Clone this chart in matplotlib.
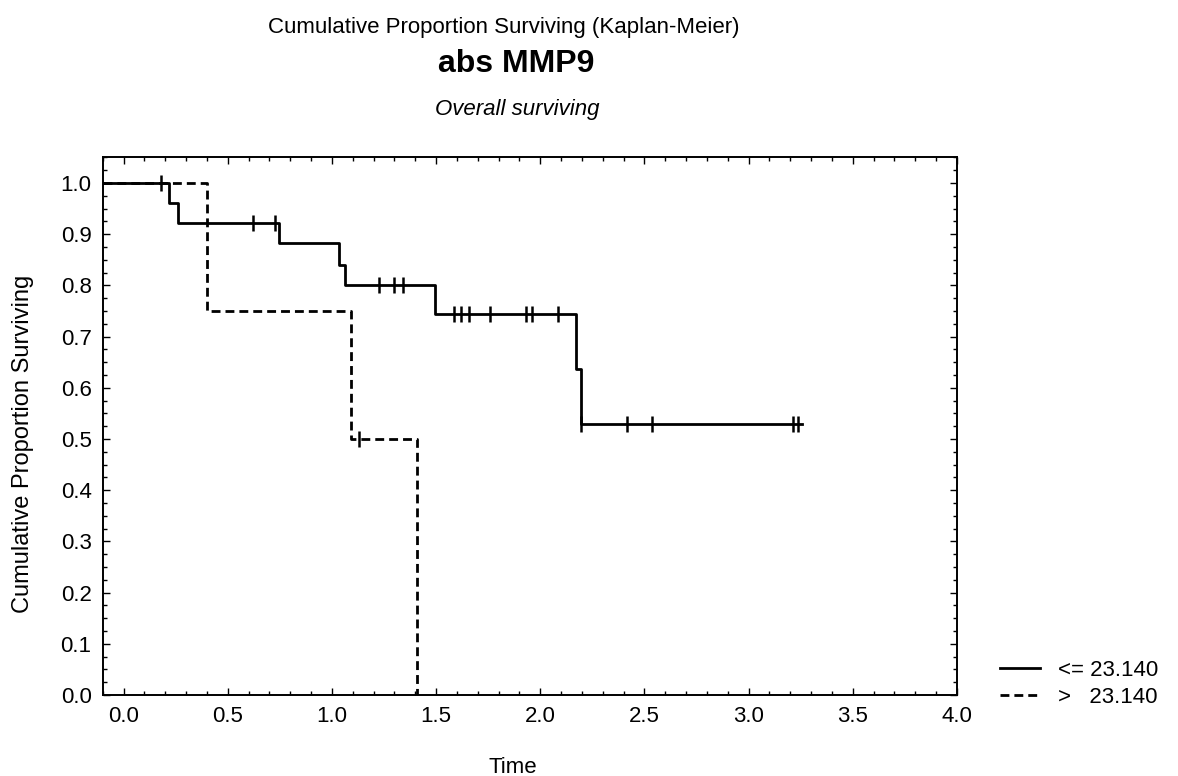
import numpy as np
import matplotlib
matplotlib.use("Agg")
import matplotlib.pyplot as plt
from matplotlib.ticker import MultipleLocator

plt.rcParams['font.family'] = ['Liberation Sans', 'DejaVu Sans']

# group <= 23.140 : step times and survival after each step
low_times = [0.0, 0.218, 0.263, 0.747, 1.032, 1.062, 1.497, 2.173, 2.197, 3.255]
low_surv = [1.0, 0.96, 0.922, 0.882, 0.839, 0.800, 0.744, 0.637, 0.530, 0.530]
low_cens_t = [0.18, 0.623, 0.727, 1.224, 1.30, 1.34, 1.588, 1.619, 1.66, 1.76,
              1.933, 1.962, 2.085, 2.197, 2.418, 2.538, 3.215, 3.235]

# group > 23.140
high_times = [0.0, 0.40, 1.094, 1.407]
high_surv = [1.0, 0.75, 0.50, 0.0]
high_cens_t = [1.128]

legend_labels = ["<= 23.140", ">   23.140"]

x_lim = (-0.1, 4.0)


def surv_at(t, times, surv):
    idx = np.searchsorted(times, t, side="right") - 1
    return np.array(surv)[idx]


fig = plt.figure(figsize=(11.78, 7.76), dpi=100)
ax = fig.add_axes([102.7 / 1178, 1 - 695 / 776, (957 - 102.7) / 1178, (695 - 157.3) / 776])

# curves are drawn from the left edge of the plot, as in the original software
l1, = ax.step([x_lim[0]] + low_times, [low_surv[0]] + low_surv, where="post",
              color="black", lw=2)
ax.plot(low_cens_t, surv_at(low_cens_t, low_times, low_surv), ls="none",
        marker="|", ms=12, mew=1.8, color="black")

l2, = ax.step([x_lim[0]] + high_times, [high_surv[0]] + high_surv, where="post",
              color="black", lw=2, dashes=(3.2, 1.8))
ax.plot(high_cens_t, surv_at(high_cens_t, high_times, high_surv), ls="none",
        marker="|", ms=12, mew=1.8, color="black")

ax.set_xlim(*x_lim)
ax.set_ylim(0.0, 1.05)
ax.xaxis.set_major_locator(MultipleLocator(0.5))
ax.xaxis.set_minor_locator(MultipleLocator(0.1))
ax.yaxis.set_major_locator(MultipleLocator(0.1))
ax.yaxis.set_minor_locator(MultipleLocator(0.025))
ax.xaxis.set_major_formatter(plt.FormatStrFormatter("%.1f"))
ax.yaxis.set_major_formatter(plt.FormatStrFormatter("%.1f"))
ax.tick_params(which="both", direction="in", top=True, right=True, labelsize=16, width=1)
ax.tick_params(which="major", length=5, pad=8)
ax.tick_params(which="minor", length=3)
for s in ax.spines.values():
    s.set_linewidth(1.4)

fig.text(504 / 1178, 1 - 33 / 776, "Cumulative Proportion Surviving (Kaplan-Meier)",
         ha="center", va="baseline", fontsize=16)
fig.text(516 / 1178, 1 - 72 / 776, "abs MMP9", ha="center", va="baseline",
         fontsize=23, fontweight="bold")
fig.text(517 / 1178, 1 - 115 / 776, "Overall surviving", ha="center", va="baseline",
         fontsize=16, style="italic")
fig.text(513 / 1178, 1 - 773 / 776, "Time", ha="center", va="baseline", fontsize=16)
fig.text(23 / 1178, 1 - 444 / 776, "Cumulative Proportion Surviving", ha="center",
         va="center", rotation=90, fontsize=17)

fig.legend([l1, l2], legend_labels, loc="upper left",
           bbox_to_anchor=(1000 / 1178, 1 - 660 / 776), frameon=False,
           fontsize=16, handlelength=1.8, handletextpad=0.8, borderpad=0,
           borderaxespad=0, labelspacing=0.25)

fig.savefig("out.png", dpi=100)
